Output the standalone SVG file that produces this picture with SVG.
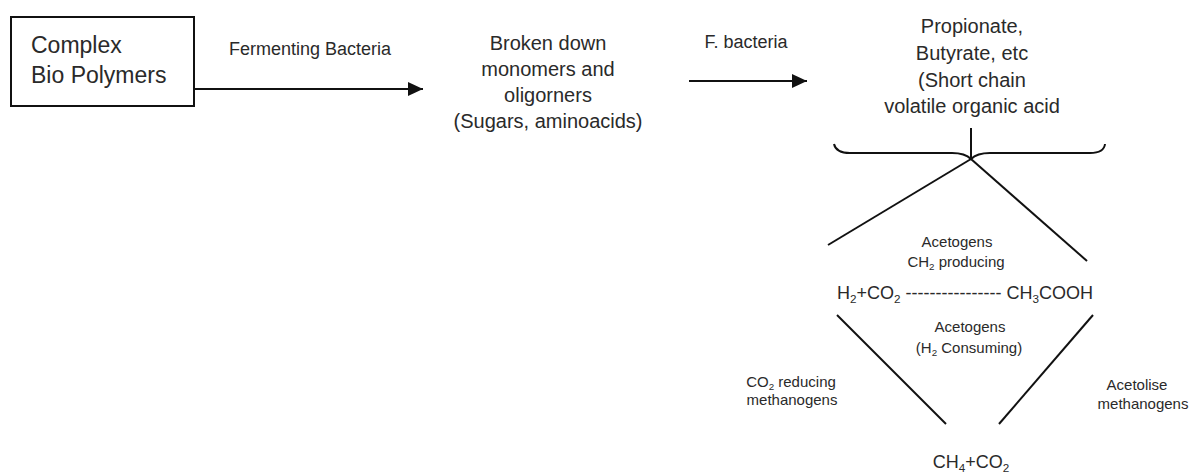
<svg xmlns="http://www.w3.org/2000/svg" width="1197" height="473" viewBox="0 0 1197 473">
  <defs>
    <marker id="arrow" markerUnits="userSpaceOnUse" markerWidth="16" markerHeight="14" refX="15" refY="7" orient="auto">
      <path d="M0,0 L15,7 L0,14 Z" fill="#111"/>
    </marker>
    <style>
      text { font-family: "Liberation Sans", Arial, sans-serif; fill: #2a2a2a; }
      .big { font-size: 23px; }
      .mid { font-size: 20px; text-anchor: middle; }
      .lbl { font-size: 18px; text-anchor: middle; }
      .sm { font-size: 15px; text-anchor: middle; }
      .ln { stroke: #111; stroke-width: 2; fill: none; }
      .sub { font-size: 0.65em; }
    </style>
  </defs>
  <rect width="1197" height="473" fill="#fff"/>

  <g id="complex-bio-polymers">
    <rect x="11" y="17" width="183" height="89" fill="#fff" stroke="#111" stroke-width="2"/>
    <text class="big" x="31" y="53">Complex</text>
    <text class="big" x="31" y="83">Bio Polymers</text>
  </g>

  <g id="monomers">
    <text class="mid" x="548" y="50">Broken down</text>
    <text class="mid" x="548" y="76">monomers and</text>
    <text class="mid" x="548" y="102">oligorners</text>
    <text class="mid" x="548" y="128">(Sugars, aminoacids)</text>
  </g>

  <g id="volatile-acids">
    <text class="mid" x="972" y="33">Propionate,</text>
    <text class="mid" x="972" y="60">Butyrate, etc</text>
    <text class="mid" x="972" y="87">(Short chain</text>
    <text class="mid" x="972" y="113">volatile organic acid</text>
  </g>

  <g id="h2-acetic">
    <text x="837" y="299" style="font-size:18px">H<tspan class="sub" dy="4">2</tspan><tspan dy="-4">+CO</tspan><tspan class="sub" dy="4">2</tspan><tspan dy="-4"> ---------------- CH</tspan><tspan class="sub" dy="4">3</tspan><tspan dy="-4">COOH</tspan></text>
  </g>

  <g id="ch4-co2">
    <text class="lbl" x="971" y="468">CH<tspan class="sub" dy="4">4</tspan><tspan dy="-4">+CO</tspan><tspan class="sub" dy="4">2</tspan></text>
  </g>

  <g id="connectors">
    <line class="ln" x1="194" y1="89" x2="423" y2="89" marker-end="url(#arrow)"/>
    <line class="ln" x1="689" y1="81" x2="807" y2="81" marker-end="url(#arrow)"/>
    <path class="ln" d="M834,144 Q836,153 850,153 L952,153 Q965,153 971,159 Q977,153 990,153 L1090,153 Q1104,153 1105,144"/>
    <line class="ln" x1="971" y1="128" x2="971" y2="159"/>
    <line class="ln" x1="971" y1="159" x2="828" y2="245"/>
    <line class="ln" x1="971" y1="159" x2="1087" y2="261"/>
    <line class="ln" x1="837" y1="315" x2="946" y2="424"/>
    <line class="ln" x1="1093" y1="315" x2="999" y2="424"/>
  </g>

  <g id="labels">
    <text class="lbl" x="310" y="55">Fermenting Bacteria</text>
    <text class="lbl" x="746" y="48">F. bacteria</text>
    <text class="sm" x="957" y="247">Acetogens</text>
    <text class="sm" x="956" y="267">CH<tspan class="sub" dy="3">2</tspan><tspan dy="-3"> producing</tspan></text>
    <text class="sm" x="970" y="332">Acetogens</text>
    <text class="sm" x="969" y="353">(H<tspan class="sub" dy="3">2</tspan><tspan dy="-3"> Consuming)</tspan></text>
    <text class="sm" x="791" y="387">CO<tspan class="sub" dy="3">2</tspan><tspan dy="-3"> reducing</tspan></text>
    <text class="sm" x="792" y="405">methanogens</text>
    <text class="sm" x="1137" y="390">Acetolise</text>
    <text class="sm" x="1143" y="409">methanogens</text>
  </g>
</svg>
